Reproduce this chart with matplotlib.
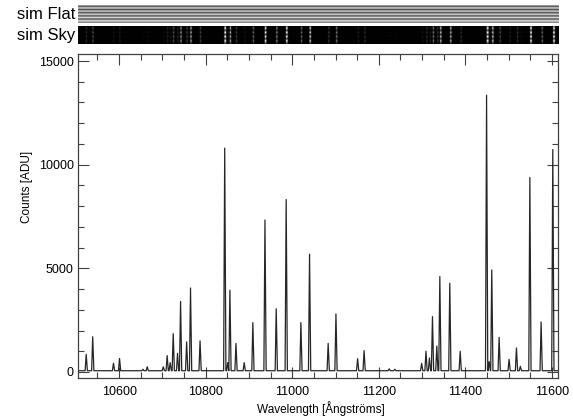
import numpy as np
import matplotlib
matplotlib.use('Agg')
import matplotlib.pyplot as plt
from matplotlib.ticker import MultipleLocator

plt.rcParams['font.family'] = ['Liberation Sans', 'DejaVu Sans']

# sky line centres [Angstrom] and peak counts [ADU]
line_wave = [10524, 10539, 10587, 10601, 10655, 10665, 10702, 10711, 10718, 10725,
             10735, 10742, 10756, 10765, 10787, 10844, 10851, 10856, 10870, 10889,
             10909, 10937, 10963, 10986, 11020, 11040, 11083, 11101, 11151, 11166,
             11224, 11237, 11299, 11309, 11317, 11324, 11334, 11341, 11364, 11388,
             11449, 11455, 11461, 11478, 11501, 11518, 11527, 11549, 11575, 11602]
line_peak = [850, 1700, 420, 650, 130, 250, 250, 790, 450, 1850,
             900, 3400, 1450, 4050, 1500, 10800, 450, 3950, 1380, 450,
             2380, 7330, 3050, 8320, 2380, 5680, 1380, 2800, 640, 1030,
             150, 130, 420, 1000, 675, 2670, 1250, 4600, 4280, 1000,
             13350, 500, 4920, 1670, 610, 1160, 270, 9380, 2410, 10730]
continuum = 60
wave_range = [10505, 11614]

# row patterns of the 2d strips
flat_rows = [0.80, 0.35, 0.85, 0.30, 0.85, 0.30, 0.85, 0.30, 0.85, 0.30, 0.85, 0.55]
sky_rows = [0.35, 1.0, 0.25, 1.0, 0.3, 1.0, 0.25, 1.0, 0.35]


def spectrum(wave):
    spec = np.full(len(wave), float(continuum))
    for c, h in zip(line_wave, line_peak):
        spec += np.interp(wave, [c - 2.5, c, c + 2.5], [0, h - continuum, 0])
    return spec


wave = np.arange(wave_range[0], wave_range[1] + 0.25, 0.25)
flux = spectrum(wave)

fig = plt.figure(figsize=(5.73, 4.19), dpi=100)

# sim Flat strip
ax_flat = fig.add_axes([0.1361, 0.9451, 0.8377, 0.0430])
flat_img = np.tile(np.array(flat_rows)[:, None], (1, 200))
ax_flat.imshow(flat_img, cmap='gray', vmin=0, vmax=1, aspect='auto', interpolation='bilinear',
               extent=[wave_range[0], wave_range[1], 0, 1])
ax_flat.set_axis_off()
fig.text(0.131, 0.966, 'sim Flat', ha='right', va='center', fontsize=12)

# sim Sky strip
ax_sky = fig.add_axes([0.1361, 0.8950, 0.8377, 0.0430])
sky_wave = np.arange(wave_range[0], wave_range[1], 1.0)
sky_col = np.clip(spectrum(sky_wave) / 4500.0, 0, 1)
sky_img = np.array(sky_rows)[:, None] * sky_col[None, :]
ax_sky.imshow(sky_img, cmap='gray', vmin=0, vmax=1, aspect='auto', interpolation='bilinear',
              extent=[wave_range[0], wave_range[1], 0, 1])
ax_sky.set_axis_off()
fig.text(0.131, 0.915, 'sim Sky', ha='right', va='center', fontsize=12)

# spectrum
ax = fig.add_axes([0.1361, 0.0979, 0.8377, 0.7733])
ax.plot(wave, flux, color='#262626', lw=0.9)
ax.set_xlim(wave_range)
ax.set_ylim(-290, 15340)
ax.xaxis.set_major_locator(MultipleLocator(200))
ax.xaxis.set_minor_locator(MultipleLocator(50))
ax.yaxis.set_major_locator(MultipleLocator(5000))
ax.yaxis.set_minor_locator(MultipleLocator(1000))
ax.tick_params(which='both', direction='in', top=True, right=True, color='#404040', width=0.8)
ax.tick_params(which='major', length=8, labelsize=9)
ax.tick_params(which='minor', length=4)
ax.tick_params(axis='x', which='major', pad=6)
ax.tick_params(axis='y', which='major', pad=3)
for s in ax.spines.values():
    s.set_color('#404040')
    s.set_linewidth(0.9)
ax.set_xlabel('Wavelength [Ångströms]', fontsize=8.5)
ax.set_ylabel('Counts [ADU]', fontsize=8.5)
ax.xaxis.set_label_coords(0.506, -0.071)
ax.yaxis.set_label_coords(-0.094, 0.59)

fig.savefig('out.png', dpi=100)
